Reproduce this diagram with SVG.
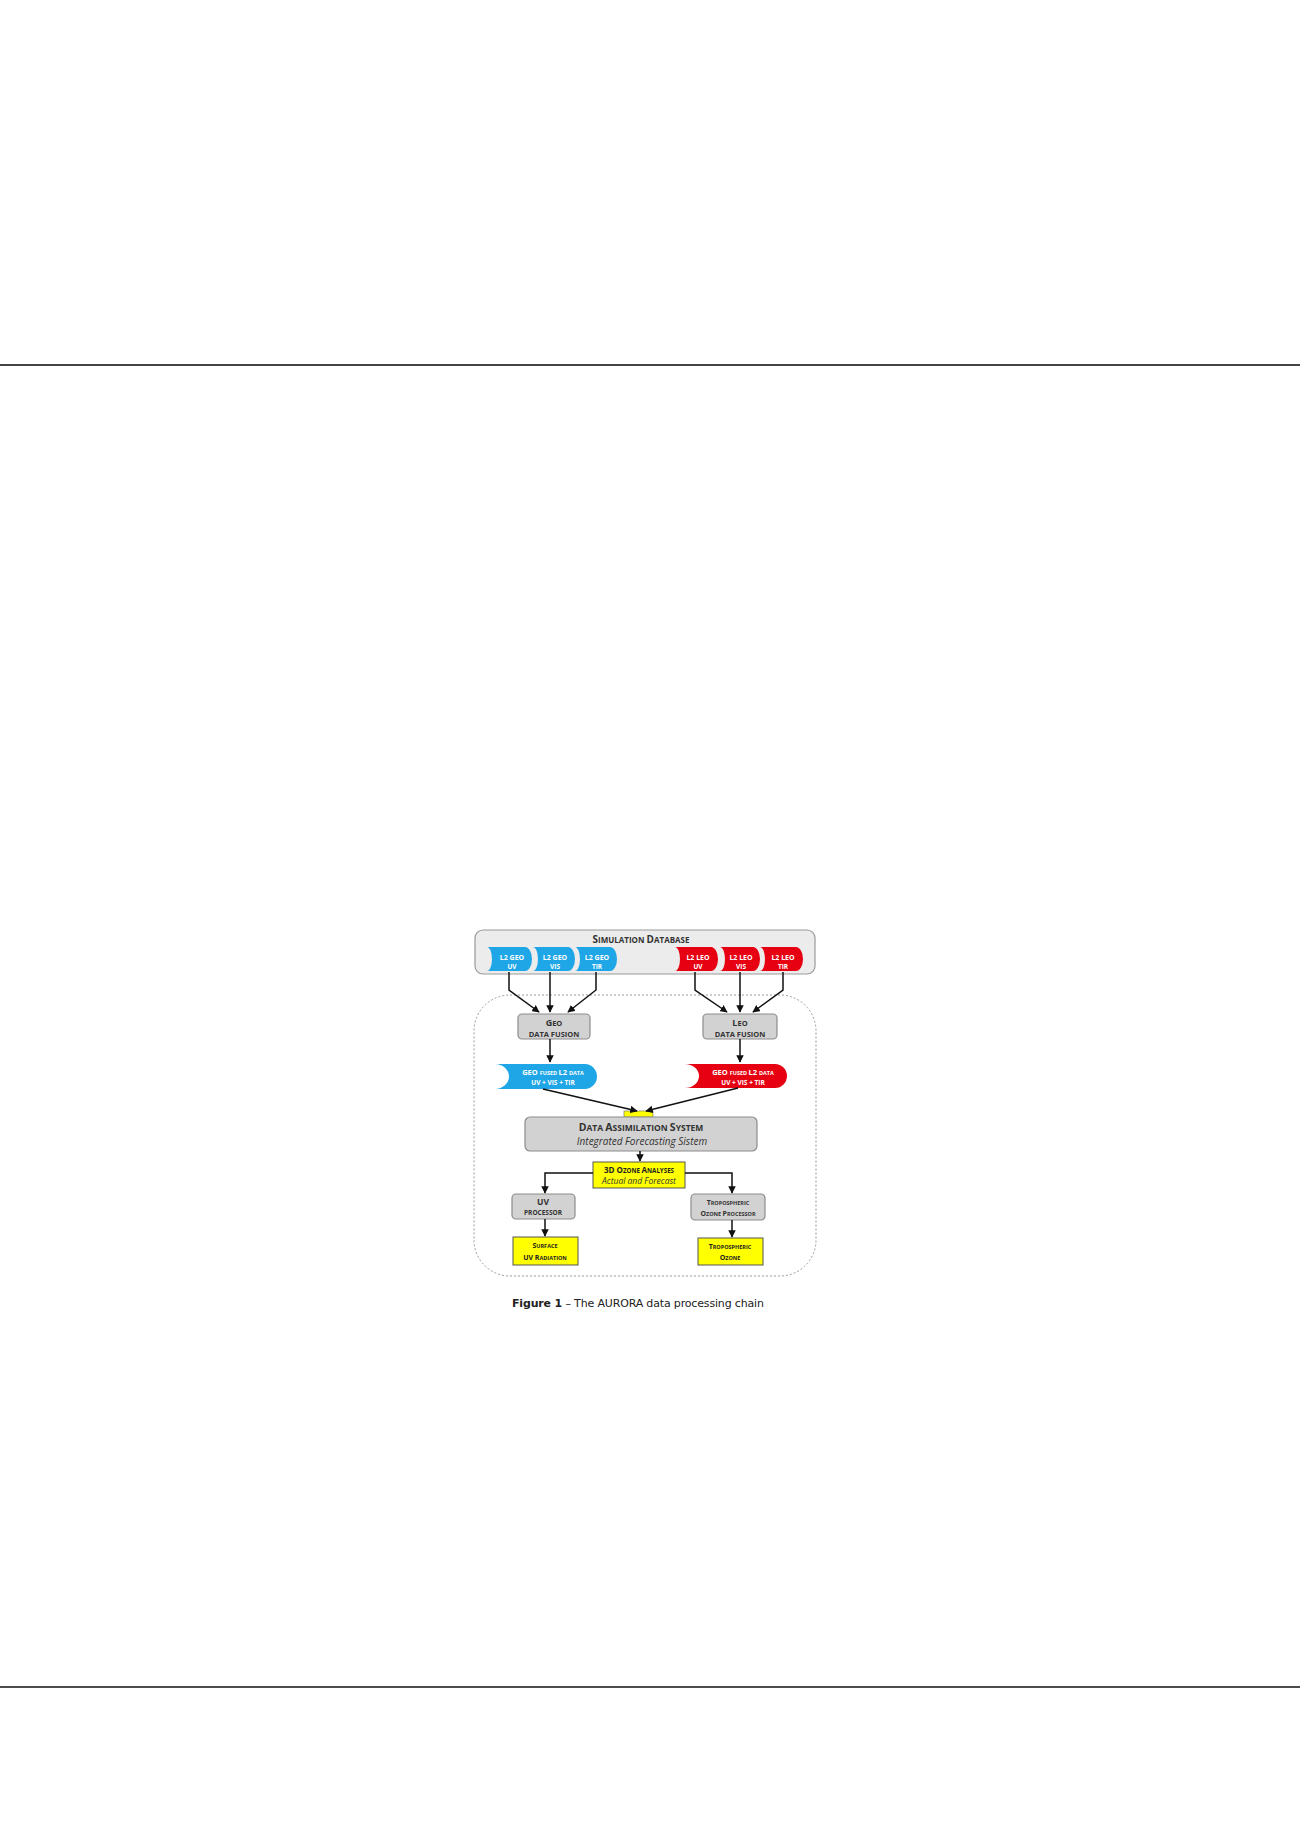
<svg xmlns="http://www.w3.org/2000/svg" width="1300" height="1839" viewBox="0 0 1300 1839">
<style>
.t{font-family:"Open Sans","Liberation Sans",sans-serif;font-weight:bold;text-anchor:middle}
.w{fill:#ffffff}
.k{fill:#333333}
.it{font-family:"Open Sans","Liberation Sans",sans-serif;font-style:italic;text-anchor:middle;fill:#333}
.gray{fill:#d2d2d2;stroke:#8c8c8c;stroke-width:1.2}
.yel{fill:#ffff00;stroke:#555;stroke-width:1}
.blue{fill:#1ea6e6}
.red{fill:#e60012}
.ln{fill:none;stroke:#111;stroke-width:1.5}
</style>
<defs>
<marker id="ah" viewBox="0 0 10 10" refX="9" refY="5" markerWidth="5" markerHeight="5" orient="auto">
<path d="M0,0 L10,5 L0,10 Z" fill="#111"/>
</marker>
</defs>
<rect width="1300" height="1839" fill="#ffffff"/>
<line x1="0" y1="365" x2="1300" y2="365" stroke="#444" stroke-width="1.8"/>
<line x1="0" y1="1687" x2="1300" y2="1687" stroke="#111" stroke-width="1.5"/>

<g id="region">
<rect x="474" y="995" width="342" height="281" rx="36" ry="36" fill="none" stroke="#999" stroke-width="1" stroke-dasharray="2,2"/>
</g>

<g id="simdb">
<rect x="475" y="930" width="340" height="44" rx="8" ry="8" fill="#ececec" stroke="#999" stroke-width="1.2"/>
<text class="t k" x="641" y="943"><tspan font-size="10">S</tspan><tspan font-size="8">IMULATION </tspan><tspan font-size="10">D</tspan><tspan font-size="8">ATABASE</tspan></text>
</g>

<g id="geo-uv">
<path class="blue" d="M487,947 L525,947 A7,12 0 0 1 525,971 L487,971 A5,12 0 0 0 487,947 Z"/>
<text class="t w" font-size="7" x="512" y="960">L2 GEO</text>
<text class="t w" font-size="6.5" x="512" y="969">UV</text>
</g>
<g id="geo-vis">
<path class="blue" d="M533,947 L568,947 A7,12 0 0 1 568,971 L533,971 A5,12 0 0 0 533,947 Z"/>
<text class="t w" font-size="7" x="555" y="960">L2 GEO</text>
<text class="t w" font-size="6.5" x="555" y="969">VIS</text>
</g>
<g id="geo-tir">
<path class="blue" d="M575,947 L610,947 A7,12 0 0 1 610,971 L575,971 A5,12 0 0 0 575,947 Z"/>
<text class="t w" font-size="7" x="597" y="960">L2 GEO</text>
<text class="t w" font-size="6.5" x="597" y="969">TIR</text>
</g>
<g id="leo-uv">
<path class="red" d="M675,947 L711,947 A7,12 0 0 1 711,971 L675,971 A5,12 0 0 0 675,947 Z"/>
<text class="t w" font-size="7" x="698" y="960">L2 LEO</text>
<text class="t w" font-size="6.5" x="698" y="969">UV</text>
</g>
<g id="leo-vis">
<path class="red" d="M720,947 L753,947 A7,12 0 0 1 753,971 L720,971 A5,12 0 0 0 720,947 Z"/>
<text class="t w" font-size="7" x="741" y="960">L2 LEO</text>
<text class="t w" font-size="6.5" x="741" y="969">VIS</text>
</g>
<g id="leo-tir">
<path class="red" d="M760,947 L796,947 A7,12 0 0 1 796,971 L760,971 A5,12 0 0 0 760,947 Z"/>
<text class="t w" font-size="7" x="783" y="960">L2 LEO</text>
<text class="t w" font-size="6.5" x="783" y="969">TIR</text>
</g>

<g id="geo-fusion">
<rect class="gray" x="518" y="1014" width="72" height="25" rx="4"/>
<text class="t k" x="554" y="1026"><tspan font-size="9">G</tspan><tspan font-size="7.5">EO</tspan></text>
<text class="t k" font-size="7.5" x="554" y="1036.5">DATA FUSION</text>
</g>
<g id="leo-fusion">
<rect class="gray" x="703" y="1014" width="74" height="25" rx="4"/>
<text class="t k" x="740" y="1026"><tspan font-size="9">L</tspan><tspan font-size="7.5">EO</tspan></text>
<text class="t k" font-size="7.5" x="740" y="1036.5">DATA FUSION</text>
</g>

<g id="geo-fused">
<path class="blue" d="M495,1064 L585,1064 A12,12.5 0 0 1 585,1089 L495,1089 A14,12.5 0 0 0 495,1064 Z"/>
<text class="t w" x="553" y="1075"><tspan font-size="7.5">GEO </tspan><tspan font-size="5.5">FUSED </tspan><tspan font-size="7.5">L2 </tspan><tspan font-size="5.5">DATA</tspan></text>
<text class="t w" font-size="6.5" x="553" y="1085">UV + VIS + TIR</text>
</g>
<g id="leo-fused">
<path class="red" d="M685,1064 L775,1064 A12,12 0 0 1 775,1088 L685,1088 A14,12 0 0 0 685,1064 Z"/>
<text class="t w" x="743" y="1075"><tspan font-size="7.5">GEO </tspan><tspan font-size="5.5">FUSED </tspan><tspan font-size="7.5">L2 </tspan><tspan font-size="5.5">DATA</tspan></text>
<text class="t w" font-size="6.5" x="743" y="1085">UV + VIS + TIR</text>
</g>

<g id="merge">
<rect x="624" y="1111" width="29" height="6" fill="#ffff00" stroke="#666" stroke-width="0.6"/>
</g>

<g id="das">
<rect class="gray" x="525" y="1117" width="232" height="34" rx="5"/>
<text class="t k" x="641" y="1131"><tspan font-size="10.5">D</tspan><tspan font-size="8.5">ATA </tspan><tspan font-size="10.5">A</tspan><tspan font-size="8.5">SSIMILATION </tspan><tspan font-size="10.5">S</tspan><tspan font-size="8.5">YSTEM</tspan></text>
<text class="it" font-size="10" x="642" y="1145">Integrated Forecasting Sistem</text>
</g>

<g id="ozone">
<rect class="yel" x="593" y="1162" width="92" height="26"/>
<text class="t" fill="#222" x="639" y="1173"><tspan font-size="8">3D O</tspan><tspan font-size="6.2">ZONE </tspan><tspan font-size="8">A</tspan><tspan font-size="6.2">NALYSES</tspan></text>
<text class="it" font-size="8.5" x="639" y="1184">Actual and Forecast</text>
</g>

<g id="uv-proc">
<rect class="gray" x="512" y="1194" width="63" height="25" rx="4"/>
<text class="t k" font-size="8.5" x="543" y="1205">UV</text>
<text class="t k" font-size="6.5" x="543" y="1215">PROCESSOR</text>
</g>
<g id="trop-proc">
<rect class="gray" x="691" y="1194" width="74" height="26" rx="4"/>
<text class="t k" x="728" y="1205"><tspan font-size="7">T</tspan><tspan font-size="5.5">ROPOSPHERIC</tspan></text>
<text class="t k" x="728" y="1215.5"><tspan font-size="7">O</tspan><tspan font-size="5.5">ZONE </tspan><tspan font-size="7">P</tspan><tspan font-size="5.5">ROCESSOR</tspan></text>
</g>
<g id="surface-uv">
<rect class="yel" x="513" y="1237" width="65" height="28"/>
<text class="t" fill="#222" x="545" y="1248"><tspan font-size="7">S</tspan><tspan font-size="5.5">URFACE</tspan></text>
<text class="t" fill="#222" x="545" y="1259.5"><tspan font-size="7">UV R</tspan><tspan font-size="5.5">ADIATION</tspan></text>
</g>
<g id="trop-ozone">
<rect class="yel" x="698" y="1238" width="65" height="27"/>
<text class="t" fill="#222" x="730" y="1248.5"><tspan font-size="7">T</tspan><tspan font-size="5.5">ROPOSPHERIC</tspan></text>
<text class="t" fill="#222" x="730" y="1260"><tspan font-size="7">O</tspan><tspan font-size="5.5">ZONE</tspan></text>
</g>

<g id="connectors">
<polyline class="ln" points="509,972 509,990 539,1012" marker-end="url(#ah)"/>
<line class="ln" x1="550" y1="972" x2="550" y2="1012" marker-end="url(#ah)"/>
<polyline class="ln" points="596,972 596,990 568,1012" marker-end="url(#ah)"/>
<polyline class="ln" points="695,972 695,990 727,1012" marker-end="url(#ah)"/>
<line class="ln" x1="740" y1="972" x2="740" y2="1012" marker-end="url(#ah)"/>
<polyline class="ln" points="783,972 783,990 753,1012" marker-end="url(#ah)"/>
<line class="ln" x1="550" y1="1039" x2="550" y2="1062" marker-end="url(#ah)"/>
<line class="ln" x1="740" y1="1039" x2="740" y2="1062" marker-end="url(#ah)"/>
<line class="ln" x1="543" y1="1089" x2="637" y2="1111" marker-end="url(#ah)"/>
<line class="ln" x1="738" y1="1088" x2="646" y2="1111" marker-end="url(#ah)"/>
<line class="ln" x1="640" y1="1151" x2="640" y2="1161" marker-end="url(#ah)"/>
<polyline class="ln" points="593,1173 545,1173 545,1193" marker-end="url(#ah)"/>
<polyline class="ln" points="685,1173 732,1173 732,1193" marker-end="url(#ah)"/>
<line class="ln" x1="545" y1="1219" x2="545" y2="1236" marker-end="url(#ah)"/>
<line class="ln" x1="732" y1="1220" x2="732" y2="1237" marker-end="url(#ah)"/>
</g>

<g id="caption">
<text x="638" y="1307" font-family="'DejaVu Sans','Liberation Sans',sans-serif" font-size="11" text-anchor="middle" fill="#222" textLength="252" lengthAdjust="spacing"><tspan font-weight="bold">Figure 1</tspan> – The AURORA data processing chain</text>
</g>
</svg>
